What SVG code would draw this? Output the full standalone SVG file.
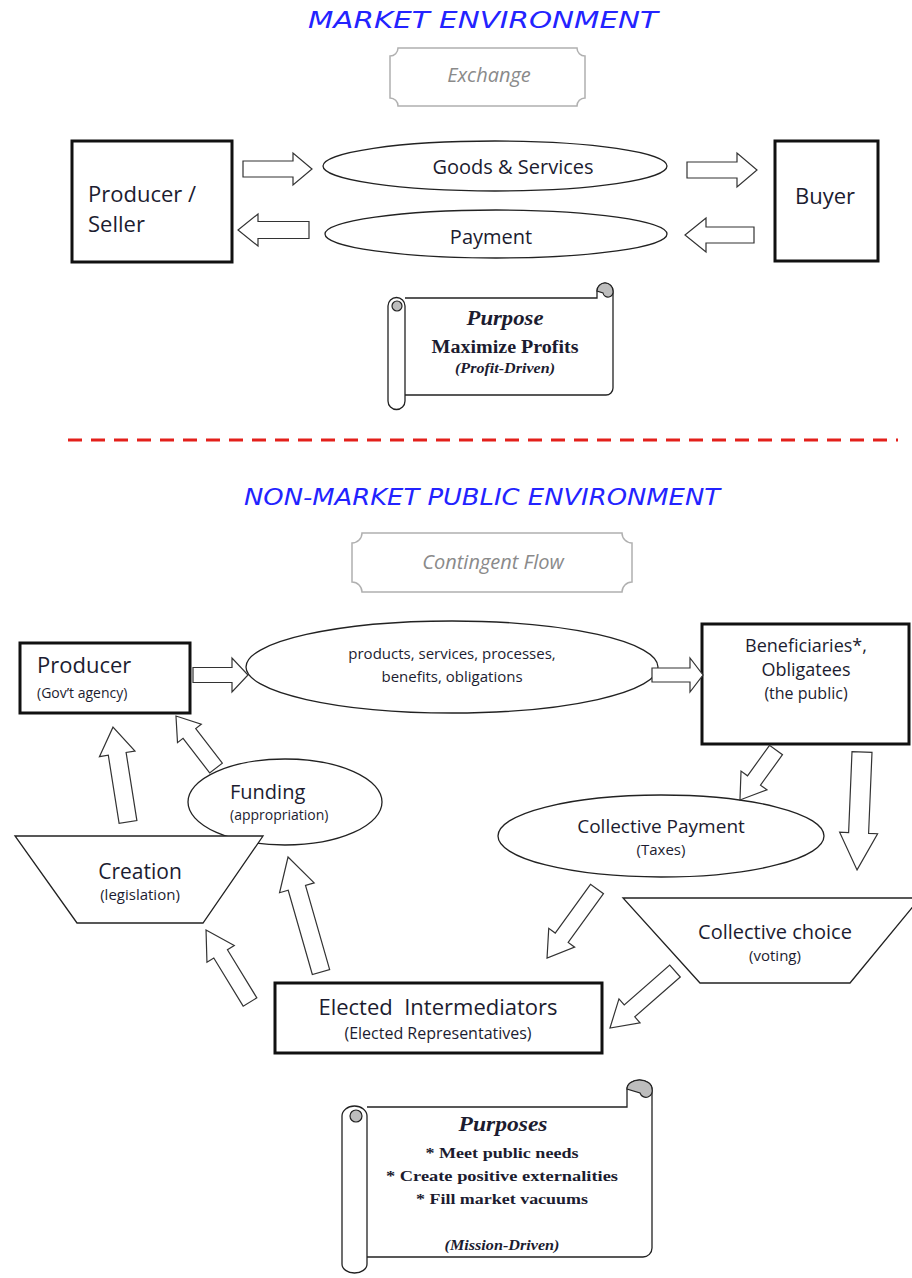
<svg xmlns="http://www.w3.org/2000/svg" width="912" height="1278" viewBox="0 0 912 1278">
<style>
.title{font-family:"DejaVu Sans",sans-serif;font-style:italic;fill:#2323ff;font-size:23px}
.plaque{fill:#fff;stroke:#b0b0b0;stroke-width:1.5}
.ptxt{font-family:"Open Sans","DejaVu Sans",sans-serif;font-style:italic;fill:#8a8a8a;font-size:20px;text-anchor:middle}
.box{fill:#fff;stroke:#111;stroke-width:3}
.shape{fill:#fff;stroke:#222;stroke-width:1.3}
.arr{fill:#fff;stroke:#333;stroke-width:1.2;stroke-linejoin:miter}
.t{font-family:"Open Sans","DejaVu Sans",sans-serif;fill:#1c1c30}
.c{text-anchor:middle}
.s{font-family:"Liberation Serif","DejaVu Serif",serif;fill:#1c1c30;font-weight:bold;text-anchor:middle}
.scroll{fill:#fff;stroke:#222;stroke-width:1.3}
.curl{fill:#bdbdbd;stroke:#222;stroke-width:1.2}
</style>

<!-- MARKET ENVIRONMENT -->
<text class="title" x="483" y="28" text-anchor="middle" textLength="350" lengthAdjust="spacingAndGlyphs">MARKET  ENVIRONMENT</text>

<g id="exchange">
<path class="plaque" d="M398,48 H577 A8,8 0 0 0 585,56 V98 A8,8 0 0 0 577,106 H398 A8,8 0 0 0 390,98 V56 A8,8 0 0 0 398,48 Z"/>
<text class="ptxt" x="489" y="82">Exchange</text>
</g>

<g id="producer-seller">
<rect class="box" x="72" y="141" width="160" height="121"/>
<text class="t" x="88" y="202" font-size="22">Producer /</text>
<text class="t" x="88" y="232" font-size="22">Seller</text>
</g>

<g id="goods-services">
<ellipse class="shape" cx="495" cy="166" rx="172" ry="25"/>
<text class="t c" x="513" y="174" font-size="20">Goods &amp; Services</text>
</g>

<g id="payment">
<ellipse class="shape" cx="496" cy="234" rx="171" ry="24"/>
<text class="t c" x="491" y="244" font-size="20">Payment</text>
</g>

<g id="buyer">
<rect class="box" x="775" y="141" width="103" height="120"/>
<text class="t c" x="825" y="204" font-size="22">Buyer</text>
</g>

<g id="purpose">
<path class="scroll" d="M405,298 H597 V291 A8,8 0 0 1 613,291 V388 A7,7 0 0 1 606,395 H405"/>
<path class="scroll" d="M388,306 A8.5,8.5 0 0 1 405,306 V401 A8.5,8.5 0 0 1 388,401 Z"/>
<circle class="curl" cx="397" cy="306" r="5"/>
<path class="curl" d="M597,291 A8,8 0 0 1 613,291 A5,5 0 0 1 603,293 Z"/>
<text class="s" x="505" y="325" font-size="21" font-style="italic" textLength="77" lengthAdjust="spacingAndGlyphs">Purpose</text>
<text class="s" x="505" y="353" font-size="18" textLength="147" lengthAdjust="spacingAndGlyphs">Maximize Profits</text>
<text class="s" x="505" y="373" font-size="14" font-style="italic" textLength="100" lengthAdjust="spacingAndGlyphs">(Profit-Driven)</text>
</g>

<line x1="68" y1="440" x2="898" y2="440" stroke="#e3201b" stroke-width="3" stroke-dasharray="14 9"/>

<!-- NON-MARKET -->
<text class="title" x="482" y="505" text-anchor="middle" textLength="476" lengthAdjust="spacingAndGlyphs">NON-MARKET  PUBLIC  ENVIRONMENT</text>

<g id="contingent">
<path class="plaque" d="M362,533 H622 A10,10 0 0 0 632,543 V582 A10,10 0 0 0 622,592 H362 A10,10 0 0 0 352,582 V543 A10,10 0 0 0 362,533 Z"/>
<text class="ptxt" x="493" y="569" font-size="21">Contingent Flow</text>
</g>

<g id="producer">
<rect class="box" x="20" y="643" width="170" height="70"/>
<text class="t" x="37" y="673" font-size="22">Producer</text>
<text class="t" x="37" y="698" font-size="14">(Gov’t agency)</text>
</g>

<g id="products">
<ellipse class="shape" cx="452" cy="667" rx="206" ry="46"/>
<text class="t c" x="452" y="659" font-size="15">products, services, processes,</text>
<text class="t c" x="452" y="682" font-size="15">benefits, obligations</text>
</g>

<g id="beneficiaries">
<rect class="box" x="702" y="624" width="207" height="120"/>
<text class="t c" x="806" y="652" font-size="18">Beneficiaries*,</text>
<text class="t c" x="806" y="676" font-size="18">Obligatees</text>
<text class="t c" x="806" y="699" font-size="16">(the public)</text>
</g>

<g id="funding">
<ellipse class="shape" cx="285" cy="802" rx="97" ry="43"/>
<text class="t" x="230" y="799" font-size="20">Funding</text>
<text class="t" x="230" y="820" font-size="14">(appropriation)</text>
</g>

<g id="creation">
<path class="shape" d="M15,836 H263 L203,923 H77 Z"/>
<text class="t c" x="140" y="879" font-size="21">Creation</text>
<text class="t c" x="140" y="900" font-size="15">(legislation)</text>
</g>

<g id="collective-payment">
<ellipse class="shape" cx="661" cy="836" rx="163" ry="41"/>
<text class="t c" x="661" y="833" font-size="19">Collective Payment</text>
<text class="t c" x="661" y="855" font-size="15">(Taxes)</text>
</g>

<g id="collective-choice">
<path class="shape" d="M623,898 H920 L850,983 H700 Z"/>
<text class="t c" x="775" y="939" font-size="20">Collective choice</text>
<text class="t c" x="775" y="961" font-size="15">(voting)</text>
</g>

<g id="elected">
<rect class="box" x="275" y="983" width="327" height="70"/>
<text class="t c" x="438" y="1015" font-size="22" xml:space="preserve">Elected  Intermediators</text>
<text class="t c" x="438" y="1039" font-size="16">(Elected Representatives)</text>
</g>

<g id="purposes">
<path class="scroll" d="M367,1107 H627 V1089 A12.5,9 0 0 1 652,1089 V1248 A9,9 0 0 1 643,1257 H367"/>
<path class="scroll" d="M342,1116 A12.5,10 0 0 1 367,1116 V1264 A12.5,9 0 0 1 342,1264 Z"/>
<circle class="curl" cx="356" cy="1116" r="6"/>
<path class="curl" d="M627,1089 A12.5,9 0 0 1 652,1089 A6,6 0 0 1 640,1093 Z"/>
<text class="s" x="503" y="1131" font-size="22" font-style="italic" textLength="89" lengthAdjust="spacingAndGlyphs">Purposes</text>
<text class="s" x="502" y="1158" font-size="15" textLength="153" lengthAdjust="spacingAndGlyphs">* Meet public needs</text>
<text class="s" x="502" y="1181" font-size="15" textLength="232" lengthAdjust="spacingAndGlyphs">* Create positive externalities</text>
<text class="s" x="502" y="1204" font-size="15" textLength="172" lengthAdjust="spacingAndGlyphs">* Fill market vacuums</text>
<text class="s" x="502" y="1250" font-size="14" font-style="italic" textLength="115" lengthAdjust="spacingAndGlyphs">(Mission-Driven)</text>
</g>

<g id="connectors">
<!-- market -->
<path class="arr" transform="translate(243,169)" d="M0,-8 L50,-8 L50,-16 L69,0 L50,16 L50,8 L0,8 Z"/>
<path class="arr" transform="translate(309,230) rotate(180)" d="M0,-8.5 L51,-8.5 L51,-16 L71,0 L51,16 L51,8.5 L0,8.5 Z"/>
<path class="arr" transform="translate(687,170)" d="M0,-8 L50,-8 L50,-17 L70,0 L50,17 L50,8 L0,8 Z"/>
<path class="arr" transform="translate(754,235) rotate(180)" d="M0,-8 L48,-8 L48,-17 L69,0 L48,17 L48,8 L0,8 Z"/>
<!-- non-market -->
<path class="arr" transform="translate(193,675)" d="M0,-7.5 L39,-7.5 L39,-17 L55,0 L39,17 L39,7.5 L0,7.5 Z"/>
<path class="arr" transform="translate(652,675)" d="M0,-7 L38,-7 L38,-17 L51,0 L38,17 L38,7 L0,7 Z"/>
<path class="arr" transform="translate(776,750) rotate(125.8)" d="M0,-8 L37.6,-8 L37.6,-16 L61.6,0 L37.6,16 L37.6,8 L0,8 Z"/>
<path class="arr" transform="translate(862,752) rotate(92.4)" d="M0,-10 L81,-10 L81,-19 L118,0 L81,19 L81,10 L0,10 Z"/>
<path class="arr" transform="translate(128,822) rotate(-99)" d="M0,-9 L69,-9 L69,-18 L96,0 L69,18 L69,9 L0,9 Z"/>
<path class="arr" transform="translate(216,768) rotate(-127.6)" d="M0,-8 L43.6,-8 L43.6,-15 L65.6,0 L43.6,15 L43.6,8 L0,8 Z"/>
<path class="arr" transform="translate(250,1002) rotate(-121.4)" d="M0,-8 L56.4,-8 L56.4,-16 L84.4,0 L56.4,16 L56.4,8 L0,8 Z"/>
<path class="arr" transform="translate(321,972) rotate(-106)" d="M0,-9 L87.6,-9 L87.6,-18 L119.6,0 L87.6,18 L87.6,9 L0,9 Z"/>
<path class="arr" transform="translate(597,889) rotate(125.9)" d="M0,-8 L60.2,-8 L60.2,-16 L85.2,0 L60.2,16 L60.2,8 L0,8 Z"/>
<path class="arr" transform="translate(675,971) rotate(138.75)" d="M0,-8 L60.5,-8 L60.5,-16 L86.5,0 L60.5,16 L60.5,8 L0,8 Z"/>
</g>
</svg>
